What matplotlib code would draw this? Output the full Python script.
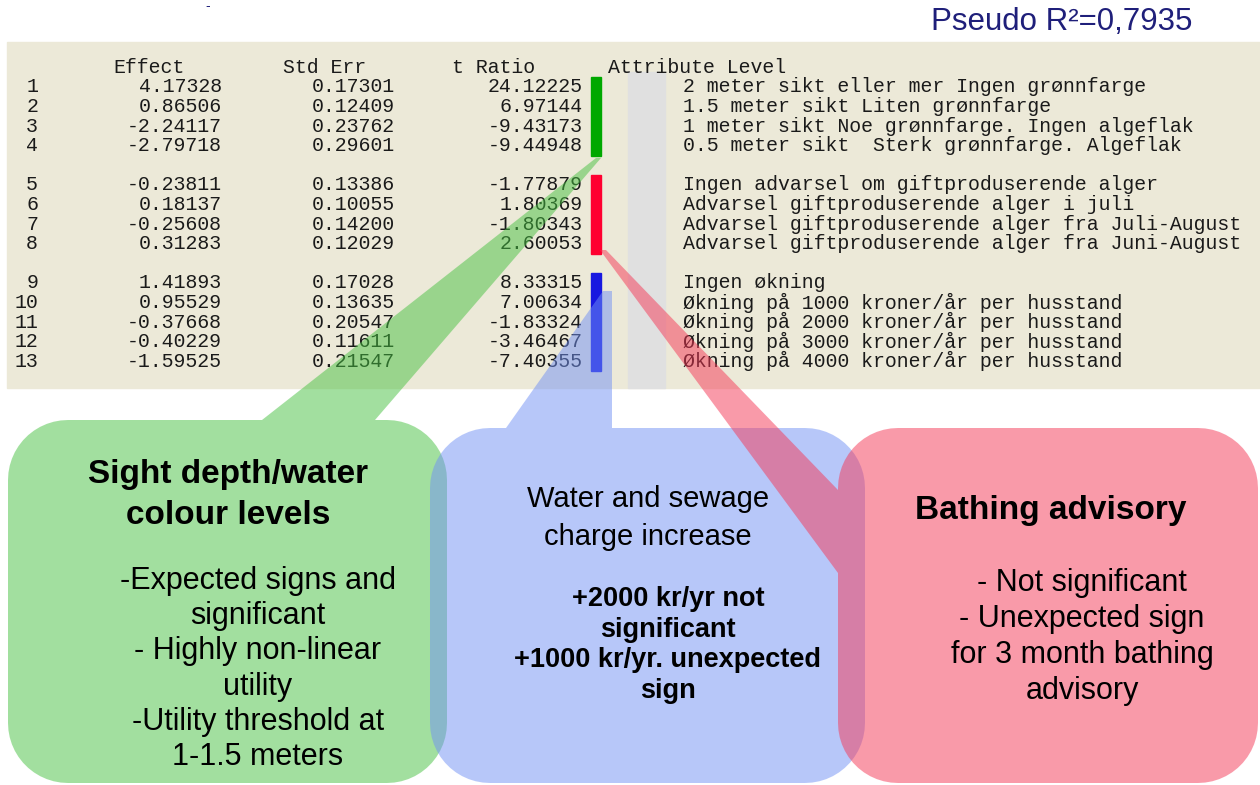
import matplotlib.pyplot as plt
import numpy as np
from matplotlib.patches import Polygon, Rectangle

# parameter estimates table
effect = [4.17328, 0.86506, -2.24117, -2.79718,
          -0.23811, 0.18137, -0.25608, 0.31283,
          1.41893, 0.95529, -0.37668, -0.40229, -1.59525]
std_err = [0.17301, 0.12409, 0.23762, 0.29601,
           0.13386, 0.10055, 0.14200, 0.12029,
           0.17028, 0.13635, 0.20547, 0.11611, 0.21547]
t_ratio = [24.12225, 6.97144, -9.43173, -9.44948,
           -1.77879, 1.80369, -1.80343, 2.60053,
           8.33315, 7.00634, -1.83324, -3.46467, -7.40355]
levels = ["2 meter sikt eller mer Ingen grønnfarge",
          "1.5 meter sikt Liten grønnfarge",
          "1 meter sikt Noe grønnfarge. Ingen algeflak",
          "0.5 meter sikt  Sterk grønnfarge. Algeflak",
          "Ingen advarsel om giftproduserende alger",
          "Advarsel giftproduserende alger i juli",
          "Advarsel giftproduserende alger fra Juli-August",
          "Advarsel giftproduserende alger fra Juni-August",
          "Ingen økning",
          "Økning på 1000 kroner/år per husstand",
          "Økning på 2000 kroner/år per husstand",
          "Økning på 3000 kroner/år per husstand",
          "Økning på 4000 kroner/år per husstand"]
group_sizes = [4, 4, 5]
group_colors = ["#00A800", "#FF0030", "#1818E0"]
headers = ["Effect", "Std Err", "t Ratio", "Attribute Level"]
pseudo_r2 = "Pseudo R²=0,7935"

green_title = "Sight depth/water\ncolour levels"
green_body = "-Expected signs and\nsignificant\n- Highly non-linear\nutility\n-Utility threshold at\n1-1.5 meters"
blue_title = "Water and sewage\ncharge increase"
blue_body = "+2000 kr/yr not\nsignificant\n+1000 kr/yr. unexpected\nsign"
red_title = "Bathing advisory"
red_body = "- Not significant\n- Unexpected sign\nfor 3 month bathing\nadvisory"

mono = ["Liberation Mono", "DejaVu Sans Mono"]
sans = ["Liberation Sans", "DejaVu Sans"]

fig = plt.figure(figsize=(12.6, 7.85), dpi=100)
ax = fig.add_axes([0, 0, 1, 1])
ax.set_xlim(0, 1260)
ax.set_ylim(785, 0)
ax.axis("off")

# table background
ax.add_patch(Rectangle((7, 42), 1253, 346, color="#ECE9D8", zorder=0))
ax.add_patch(Rectangle((628, 72), 37, 316, color="#E0E0E0", zorder=1))

y0, dy = 87, 19.6
tc = "#1a1a1a"
fs = 14.3
hx = [113, 283, 452, 608]
for h, x in zip(headers, hx):
    ax.text(x, y0 - dy, h, family=mono, fontsize=fs, color=tc, va="center", ha="left", zorder=2)

row = 0
for g, n in enumerate(group_sizes):
    first = None
    for k in range(n):
        y = y0 + (row + g) * dy
        if first is None:
            first = y
        ax.text(38, y, str(row + 1), family=mono, fontsize=fs, color=tc, va="center", ha="right", zorder=2)
        ax.text(222, y, f"{effect[row]:.5f}", family=mono, fontsize=fs, color=tc, va="center", ha="right", zorder=2)
        ax.text(395, y, f"{std_err[row]:.5f}", family=mono, fontsize=fs, color=tc, va="center", ha="right", zorder=2)
        ax.text(583, y, f"{t_ratio[row]:.5f}", family=mono, fontsize=fs, color=tc, va="center", ha="right", zorder=2)
        ax.text(683, y, levels[row], family=mono, fontsize=fs, color=tc, va="center", ha="left", zorder=2)
        row += 1
    ax.add_patch(Rectangle((591, first - 10), 10, y - first + 20, color=group_colors[g], zorder=2))

ax.text(1062, 22, pseudo_r2, family=sans, fontsize=22.5, color="#1F1F7A", ha="center", va="center")
ax.text(208, 6, "-", family=sans, fontsize=10, color="#1F1F7A", ha="center", va="center")


def callout(x0, y0, x1, y1, r, top=(), left=()):
    t = np.linspace(0, np.pi / 2, 14)
    pts = [(x0 + r, y0)] + list(top) + [(x1 - r, y0)]
    pts += [(x1 - r + r * np.sin(a), y0 + r - r * np.cos(a)) for a in t]
    pts += [(x1 - r + r * np.cos(a), y1 - r + r * np.sin(a)) for a in t]
    pts += [(x0 + r - r * np.sin(a), y1 - r + r * np.cos(a)) for a in t]
    pts += list(left)
    pts += [(x0 + r - r * np.cos(a), y0 + r - r * np.sin(a)) for a in t]
    return pts


green = callout(8, 420, 447, 783, 60, top=[(262, 420), (596, 158), (601, 158), (375, 420)])
blue = callout(430, 428, 865, 783, 60, top=[(506, 428), (603, 291), (612, 291), (612, 428)])
red = callout(838, 428, 1258, 783, 60, left=[(838, 573), (600, 250), (606, 250), (838, 490)])

ax.add_patch(Polygon(green, closed=True, facecolor="#47C141", edgecolor="none", alpha=0.5, zorder=3))
ax.add_patch(Polygon(blue, closed=True, facecolor="#7191F5", edgecolor="none", alpha=0.5, zorder=3))
ax.add_patch(Polygon(red, closed=True, facecolor="#F53755", edgecolor="none", alpha=0.5, zorder=3))

ax.text(228, 495, green_title, family=sans, fontsize=24, fontweight="bold", ha="center", va="center",
        linespacing=1.42, zorder=4)
ax.text(258, 669, green_body, family=sans, fontsize=22, ha="center", va="center",
        linespacing=1.22, zorder=4)
ax.text(648, 518, blue_title, family=sans, fontsize=21, ha="center", va="center",
        linespacing=1.45, zorder=4)
ax.text(668, 645, blue_body, family=sans, fontsize=19.5, fontweight="bold", ha="center", va="center",
        linespacing=1.22, zorder=4)
ax.text(1051, 511, red_title, family=sans, fontsize=24, fontweight="bold", ha="center", va="center", zorder=4)
ax.text(1082, 637, red_body, family=sans, fontsize=22, ha="center", va="center",
        linespacing=1.25, zorder=4)

fig.savefig("out.png", dpi=100)
